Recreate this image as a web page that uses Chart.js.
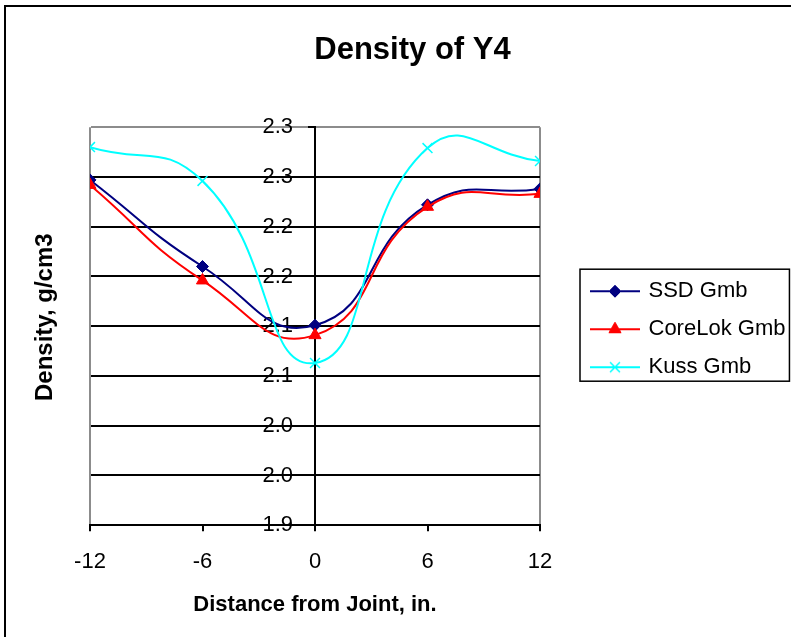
<!DOCTYPE html>
<html>
<head>
<meta charset="utf-8">
<title>Density of Y4</title>
<script src="https://cdn.jsdelivr.net/npm/chart.js@4.4.1/dist/chart.umd.min.js"></script>
<style>
  html, body { margin: 0; padding: 0; background: #ffffff; }
  #wrap { width: 791px; height: 637px; position: relative; }
</style>
</head>
<body>
<div id="wrap"><canvas id="chart" width="791" height="637"></canvas></div>
<script>
// Core density by distance from the joint (inches)
const distances = [-12, -6, 0, 6, 12];
const ssdGmb = [2.247, 2.160, 2.101, 2.222, 2.238];
const coreLokGmb = [2.242, 2.146, 2.091, 2.220, 2.233];
const kussGmb = [2.280, 2.246, 2.063, 2.279, 2.266];

// Axis tick values
const densityTicks = [1.90, 1.95, 2.00, 2.05, 2.10, 2.15, 2.20, 2.25, 2.30];
const distanceTicks = [-12, -6, 0, 6, 12];

const seriesNames = ['SSD Gmb', 'CoreLok Gmb', 'Kuss Gmb'];
const seriesValues = [ssdGmb, coreLokGmb, kussGmb];
const seriesColors = ['#000080', '#ff0000', '#00ffff'];
const markerStyles = ['rectRot', 'triangle', 'crossRot'];
const markerRadius = [6, 7, 7];
const markerBorder = [1, 1, 1.5];

const FONT = '"Liberation Sans", Arial, Helvetica, sans-serif';
Chart.defaults.font.family = FONT;
Chart.defaults.color = '#000';

const SWATCH_W = 45;

// One-decimal label, halves rounded up
const oneDecimal = (v) => (Math.round(Number(v) * 10 + 1e-6) / 10).toFixed(1);

// Line + marker swatch used as the legend symbol
function legendSwatch(i) {
  const c = document.createElement('canvas');
  c.width = 50; c.height = 20;
  const g = c.getContext('2d');
  g.strokeStyle = seriesColors[i];
  g.lineWidth = 2;
  g.beginPath(); g.moveTo(0, 10); g.lineTo(50, 10); g.stroke();
  g.fillStyle = seriesColors[i];
  g.lineWidth = markerBorder[i];
  Chart.helpers.drawPoint(g, {
    pointStyle: markerStyles[i], radius: markerRadius[i], rotation: 0, borderWidth: markerBorder[i]
  }, 25, 10);
  return c;
}

// White page with the chart frame
const chartFrame = {
  id: 'chartFrame',
  beforeDraw(chart) {
    const ctx = chart.ctx;
    ctx.save();
    ctx.fillStyle = '#ffffff';
    ctx.fillRect(0, 0, chart.width, chart.height);
    ctx.strokeStyle = '#000';
    ctx.lineWidth = 2;
    ctx.strokeRect(5, 6, chart.width + 20, chart.height + 20);
    ctx.restore();
  }
};

// The value axis crosses the distance axis at 0
const axisAtZero = {
  id: 'axisAtZero',
  afterLayout(chart) {
    const y = chart.scales.y;
    const x0 = chart.scales.x.getPixelForValue(0);
    y.right = x0;
    y.left = x0 - 90;
    y._gridLineItems = null;
    y._labelItems = null;
    const t = chart.scales.yTitle;
    t.top -= 9;
    t.bottom -= 9;
  }
};

// Box around the legend entries
const legendFrame = {
  id: 'legendFrame',
  afterDraw(chart) {
    const boxes = chart.legend && chart.legend.legendHitBoxes;
    if (!boxes || !boxes.length) return;
    const left = Math.min(...boxes.map(b => b.left)) + SWATCH_W / 2 - 35;
    const right = Math.max(...boxes.map(b => b.left + b.width)) + 4;
    const top = Math.min(...boxes.map(b => b.top)) - 11;
    const bottom = Math.max(...boxes.map(b => b.top + b.height)) + 3;
    const ctx = chart.ctx;
    ctx.save();
    ctx.strokeStyle = '#000';
    ctx.lineWidth = 1.5;
    ctx.strokeRect(left, top, right - left, bottom - top);
    ctx.restore();
  }
};

const datasets = seriesNames.map((name, i) => ({
  label: name,
  data: distances.map((d, k) => ({ x: d, y: seriesValues[i][k] })),
  borderColor: seriesColors[i],
  backgroundColor: seriesColors[i],
  borderWidth: 2,
  pointStyle: markerStyles[i],
  pointRadius: markerRadius[i],
  pointBorderWidth: markerBorder[i],
  pointBackgroundColor: seriesColors[i],
  pointBorderColor: seriesColors[i],
  tension: 0.5,
  order: 3 - i
}));

new Chart(document.getElementById('chart'), {
  type: 'line',
  data: { datasets },
  options: {
    responsive: false,
    animation: false,
    events: [],
    layout: { padding: { left: 34, right: 0, top: 0, bottom: 19 } },
    elements: { line: { capBezierPoints: false } },
    plugins: {
      tooltip: { enabled: false },
      title: {
        display: true,
        text: 'Density of Y4',
        color: '#000',
        font: { size: 31, weight: 'bold' },
        padding: { top: 32, bottom: 58 }
      },
      legend: {
        display: true,
        position: 'right',
        fullSize: false,
        maxWidth: 214.5,
        title: { display: true, text: '', font: { size: 6, lineHeight: 1 }, padding: 0 },
        labels: {
          usePointStyle: true,
          pointStyleWidth: SWATCH_W,
          padding: 16,
          color: '#000',
          font: { size: 22 },
          generateLabels: (chart) => chart.data.datasets.map((ds, i) => ({
            text: ds.label,
            pointStyle: legendSwatch(i),
            fillStyle: seriesColors[i],
            strokeStyle: seriesColors[i],
            lineWidth: 0,
            hidden: false,
            datasetIndex: i
          }))
        }
      }
    },
    scales: {
      x: {
        type: 'linear',
        position: 'bottom',
        min: -12,
        max: 12,
        afterBuildTicks: (s) => { s.ticks = distanceTicks.map(v => ({ value: v })); },
        ticks: {
          color: '#000',
          font: { size: 22 },
          padding: 18,
          maxRotation: 0,
          callback: (v) => String(v)
        },
        grid: {
          drawOnChartArea: true,
          color: (c) => (c.index === 0 || c.index === distanceTicks.length - 1) ? '#8c8c8c' : 'rgba(0,0,0,0)',
          tickColor: '#000',
          tickLength: 6,
          lineWidth: 2
        },
        border: { display: true, color: '#000', width: 2 },
        title: {
          display: true,
          text: 'Distance from Joint, in.',
          color: '#000',
          font: { size: 22, weight: 'bold' },
          padding: { top: -2, bottom: 0 }
        }
      },
      y: {
        type: 'linear',
        position: 'left',
        min: 1.90,
        max: 2.30,
        afterBuildTicks: (s) => { s.ticks = densityTicks.map(v => ({ value: v })); },
        afterFit: (s) => { s.width = 0; },
        ticks: {
          color: '#000',
          font: { size: 22 },
          padding: 15,
          autoSkip: false,
          callback: (v) => oneDecimal(v)
        },
        grid: {
          color: (c) => (c.index === densityTicks.length - 1) ? '#8c8c8c' : '#000',
          tickColor: '#000',
          tickLength: 7,
          lineWidth: 2
        },
        border: { display: true, color: '#000', width: 2 }
      },
      yTitle: {
        type: 'linear',
        position: 'left',
        min: 1.90,
        max: 2.30,
        grid: { display: false, drawTicks: false },
        ticks: { display: false },
        border: { display: false },
        afterFit: (s) => { s.width = 56; },
        title: {
          display: true,
          text: 'Density, g/cm3',
          color: '#000',
          font: { size: 24, weight: 'bold', lineHeight: 1 },
          padding: { top: -1, bottom: 0 }
        }
      },
      gap: {
        type: 'linear',
        position: 'right',
        grid: { display: false, drawTicks: false },
        ticks: { display: false },
        border: { display: false },
        afterFit: (s) => { s.width = 36.5; }
      }
    }
  },
  plugins: [chartFrame, axisAtZero, legendFrame]
});
</script>
</body>
</html>
